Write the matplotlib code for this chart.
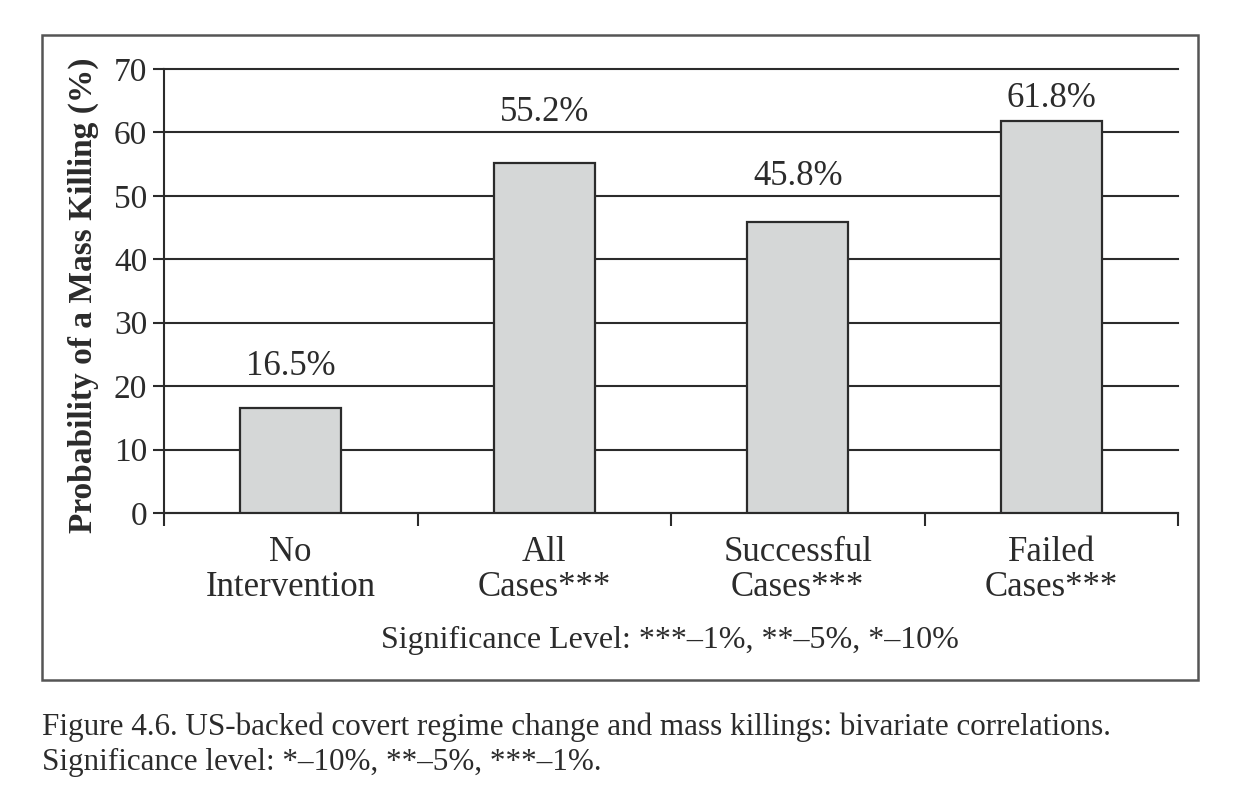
"""Recreate Figure 4.6: covert regime change and mass killings (bivariate)."""

import matplotlib

matplotlib.use("Agg")
import matplotlib.pyplot as plt
from matplotlib.patches import Rectangle

CATEGORIES = ["No\nIntervention", "All\nCases***", "Successful\nCases***", "Failed\nCases***"]
PROBABILITIES = [16.5, 55.2, 45.8, 61.8]
Y_TICKS = [0, 10, 20, 30, 40, 50, 60, 70]
# labels in the original sit just above the next gridline, not at a fixed gap
LABEL_LIFT = [5.3, 6.6, 5.9, 2.2]

W, H = 1251, 786
INK = "#2b2b2b"
BAR_FILL = "#d5d7d7"

plt.rcParams["font.family"] = ["Liberation Serif", "DejaVu Serif"]


def px(x, y):
    """Pixel position (top-left origin) to figure fraction."""
    return x / W, 1 - y / H


def main() -> None:
    fig = plt.figure(figsize=(W / 100, H / 100), dpi=100)

    left, top = px(164, 69)
    right, bottom = px(1178, 513)
    ax = fig.add_axes([left, bottom, right - left, top - bottom])

    x = range(len(CATEGORIES))
    bars = ax.bar(x, PROBABILITIES, width=0.4, color=BAR_FILL,
                  edgecolor=INK, linewidth=1.6, zorder=3)
    for b, v, lift in zip(bars, PROBABILITIES, LABEL_LIFT):
        ax.text(b.get_x() + b.get_width() / 2, v + lift, f"{v:.1f}%",
                ha="center", va="baseline", fontsize=25, color=INK)

    ax.set_xlim(-0.5, len(CATEGORIES) - 0.5)
    ax.set_ylim(0, 70)
    ax.set_yticks(Y_TICKS)
    ax.tick_params(axis="y", labelsize=24, colors=INK, length=8,
                   width=1.5, pad=4)
    ax.set_xticks([i - 0.5 for i in range(len(CATEGORIES) + 1)])
    ax.set_xticklabels([])
    ax.tick_params(axis="x", length=9, width=1.5, colors=INK)
    ax.yaxis.grid(True, color=INK, linewidth=1.5, zorder=0)
    for line in ax.get_ygridlines():
        line.set_clip_on(False)
    ax.set_axisbelow(True)
    for side in ("top", "right"):
        ax.spines[side].set_visible(False)
    for side in ("left", "bottom"):
        ax.spines[side].set_color(INK)
        ax.spines[side].set_linewidth(1.5)

    for i, label in enumerate(CATEGORIES):
        ax.text(i, -3.7, label, ha="center", va="top", fontsize=25,
                color=INK, linespacing=1.05)

    fig.text(*px(83, 295), "Probability of a Mass Killing (%)", rotation=90,
             ha="center", va="center", fontsize=24, fontweight="bold", color=INK)
    fig.text(*px(670, 640), "Significance Level: ***\u20131%, **\u20135%, *\u201310%",
             ha="center", va="center", fontsize=23, color=INK)

    x0, y0 = px(42, 680)
    x1, y1 = px(1198, 35)
    fig.patches.append(Rectangle((x0, y0), x1 - x0, y1 - y0, transform=fig.transFigure,
                                 fill=False, edgecolor="#555555", linewidth=1.8))

    fig.text(*px(42, 727), "Figure 4.6. US-backed covert regime change and mass "
             "killings: bivariate correlations.", ha="left", va="center",
             fontsize=22.4, color=INK)
    fig.text(*px(42, 762), "Significance level: *\u201310%, **\u20135%, ***\u20131%.",
             ha="left", va="center", fontsize=22.4, color=INK)

    fig.savefig("out.png", dpi=100)


if __name__ == "__main__":
    main()
